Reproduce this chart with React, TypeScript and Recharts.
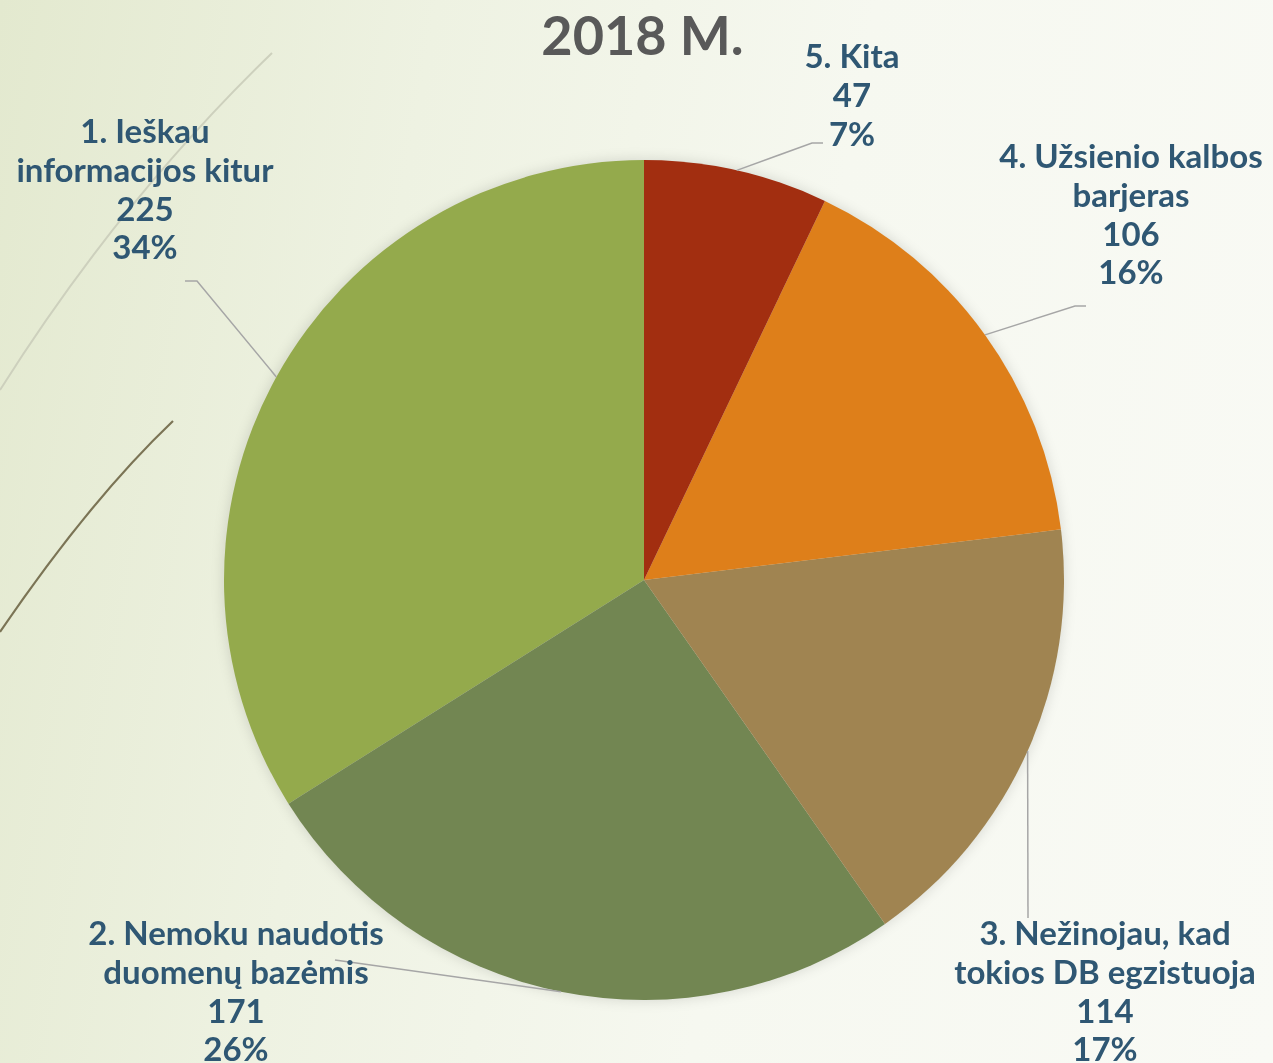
import React from "react"
import { PieChart, Pie, Cell } from "recharts"

// answers to the survey, in the order Excel drew them (counter-clockwise from 12 o'clock)
const categories = [
	"1. Ieškau\ninformacijos kitur",
	"2. Nemoku naudotis\nduomenų bazėmis",
	"3. Nežinojau, kad\ntokios DB egzistuoja",
	"4. Užsienio kalbos\nbarjeras",
	"5. Kita",
]
const answers = [225, 171, 114, 106, 47]
const title = "2018 M."

const sliceColors = ["#94aa4c", "#728652", "#a08451", "#de7f1a", "#a22e10"]

// label block + leader elbow, relative to the pie centre
const labelLayout = [
	{ x: -499, y: -450, elbow: [-447, -299], tail: [-459, -299] },
	{ x: -408, y: 352, elbow: [-309, 380], tail: [-309, 380] },
	{ x: 461, y: 352, elbow: [384, 338], tail: [384, 338] },
	{ x: 487, y: -425, elbow: [431, -274], tail: [442, -274] },
	{ x: 208, y: -525, elbow: [168, -437], tail: [179, -437] },
]

const data = categories.map((name, i) => ({ name, value: answers[i] }))

const RAD = Math.PI / 180
const LINE_H = 38.8

const renderLabel = (props: any) => {
	const { cx, cy, midAngle, outerRadius, index, value, percent } = props
	const name = props.name ?? categories[index]
	const l = labelLayout[index]
	const sx = cx + outerRadius * Math.cos(-midAngle * RAD)
	const sy = cy + outerRadius * Math.sin(-midAngle * RAD)
	const lines = [...String(name).split("\n"), String(value), `${Math.round(percent * 100)}%`]
	const tx = cx + l.x
	return (
		<g>
			<polyline
				points={`${sx},${sy} ${cx + l.elbow[0]},${cy + l.elbow[1]} ${cx + l.tail[0]},${cy + l.tail[1]}`}
				fill="none"
				stroke="#a6a6a6"
				strokeWidth={1.5}
			/>
			<text
				x={tx}
				y={cy + l.y}
				textAnchor="middle"
				dominantBaseline="central"
				fill="#2f5773"
				fontFamily="Lato"
				fontWeight={700}
				fontSize={33}
			>
				{lines.map((t, i) => (
					<tspan key={i} x={tx} y={cy + l.y + i * LINE_H}>
						{t}
					</tspan>
				))}
			</text>
		</g>
	)
}

const App: React.FC = () => (
	<div
		style={{
			position: "absolute",
			left: 0,
			top: 0,
			width: 1273,
			height: 1063,
			overflow: "hidden",
			background:
				"linear-gradient(100deg, #e3e9cf 0%, #eef2e2 30%, #f6f8f0 60%, #f9faf5 100%)",
		}}
	>
		<style>{`.pie-shadow { filter: blur(5px); opacity: 0.35; }`}</style>
		<svg width={1273} height={1063} style={{ position: "absolute", left: 0, top: 0 }}>
			<path d="M272,53 Q120,200 0,390" fill="none" stroke="#cdd0bd" strokeWidth={2} />
			<path d="M173,421 Q90,500 0,632" fill="none" stroke="#7b7455" strokeWidth={2.2} />
		</svg>
		<div
			style={{
				position: "absolute",
				left: 0,
				top: 4,
				width: 1273,
				textAlign: "center",
				paddingLeft: 12,
				boxSizing: "border-box",
				fontFamily: "Lato",
				fontWeight: 700,
				fontSize: 54,
				color: "#595959",
				lineHeight: "62px",
			}}
		>
			{title}
		</div>
		<div style={{ position: "absolute", left: 0, top: 0 }}>
			<PieChart width={1273} height={1063} margin={{ top: 0, right: 0, bottom: 0, left: 0 }}>
				<Pie
					data={data}
					dataKey="value"
					nameKey="name"
					cx={644}
					cy={580}
					outerRadius={421}
					startAngle={90}
					endAngle={450}
					fill="#000"
					stroke="none"
					className="pie-shadow"
					label={false}
					labelLine={false}
					isAnimationActive={false}
				/>
				<Pie
					data={data}
					dataKey="value"
					nameKey="name"
					cx={644}
					cy={580}
					outerRadius={420}
					startAngle={90}
					endAngle={450}
					stroke="none"
					label={renderLabel}
					labelLine={false}
					isAnimationActive={false}
				>
					{data.map((entry, index) => (
						<Cell key={`cell-${index}`} fill={sliceColors[index]} />
					))}
				</Pie>
			</PieChart>
		</div>
	</div>
)

export default App
